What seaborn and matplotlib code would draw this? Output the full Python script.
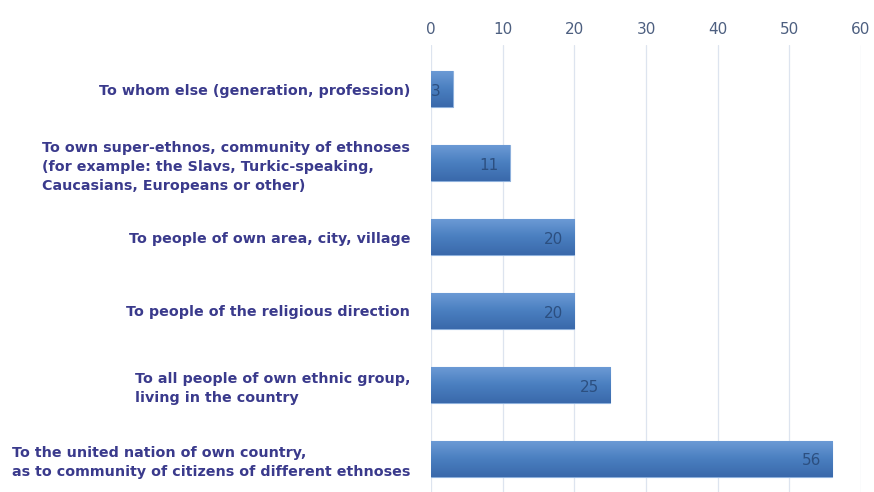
import matplotlib
matplotlib.use("Agg")
import matplotlib.pyplot as plt
import seaborn as sns
import pandas as pd
import numpy as np
from matplotlib.colors import LinearSegmentedColormap

categories = [
    "To whom else (generation, profession)",
    "To own super-ethnos, community of ethnoses\n(for example: the Slavs, Turkic-speaking,\nCaucasians, Europeans or other)",
    "To people of own area, city, village",
    "To people of the religious direction",
    "To all people of own ethnic group,\nliving in the country",
    "To the united nation of own country,\nas to community of citizens of different ethnoses",
]
values = [3, 11, 20, 20, 25, 56]
xticks = [0, 10, 20, 30, 40, 50, 60]

df = pd.DataFrame({"category": categories, "value": values})

sns.set_theme(style="white")
fig = plt.figure(figsize=(8.74, 4.92), dpi=100)
ax = fig.add_axes([431 / 874, 0.0, 430 / 874, 1 - 45 / 492])

sns.barplot(data=df, y="category", x="value", orient="h", color="#4a7fc0",
            width=0.49, saturation=1, edgecolor="#8db0dc", linewidth=0.8, ax=ax)

ax.set_xlim(0, 60)
ax.set_ylim(5.45, -0.6)

# vertical gradient fill clipped to each bar
cmap = LinearSegmentedColormap.from_list("g", ["#6d9bd6", "#4a7fc0", "#3a69ab"])
grad = np.linspace(0, 1, 64).reshape(-1, 1)
for p in list(ax.patches):
    x0, y0 = p.get_x(), p.get_y()
    w, h = p.get_width(), p.get_height()
    im = ax.imshow(grad, cmap=cmap, aspect="auto",
                   extent=(x0, x0 + w, y0 + h, y0), origin="upper", zorder=2.5)
    im.set_clip_path(p)
ax.set_xlim(0, 60)
ax.set_ylim(5.45, -0.6)

ax.set_xticks(xticks)
ax.xaxis.tick_top()
ax.xaxis.set_label_position("top")
ax.set_xlabel("")
ax.set_ylabel("")
ax.grid(axis="x", color="#dde4ef", linewidth=0.9)
ax.set_axisbelow(True)
for s in ax.spines.values():
    s.set_visible(False)
ax.tick_params(axis="x", length=0, pad=6, labelsize=11, labelcolor="#4d5f80")
for t in ax.get_xticklabels():
    t.set_family(["Liberation Sans Narrow", "DejaVu Sans"])
ax.tick_params(axis="y", length=0, pad=15)
ax.set_yticks(range(len(categories)))
ax.set_yticklabels(categories, fontsize=10.3, color="#3a3a8c",
                   family=["DejaVu Sans"], fontweight="bold",
                   ha="right", multialignment="left", linespacing=1.45)

for i, v in enumerate(values):
    ax.text(v - 1.6, i + 0.03, str(v), ha="right", va="center", fontsize=11,
            color="#2c4f80", family=["Liberation Sans Narrow", "DejaVu Sans"],
            zorder=5)

fig.savefig("out.png", dpi=100)
